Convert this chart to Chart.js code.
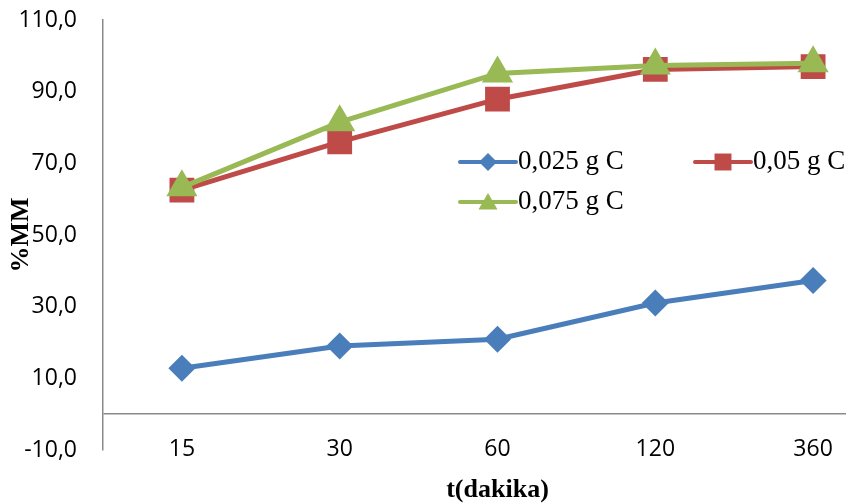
<!DOCTYPE html>
<html lang="tr">
<head>
<meta charset="UTF-8">
<title>%MM - t(dakika)</title>
<script src="https://cdn.jsdelivr.net/npm/chart.js"></script>
<style>
  html, body { margin: 0; padding: 0; background: #fff; overflow: hidden; }
  #wrap { width: 846px; height: 504px; overflow: hidden; }
</style>
</head>
<body>
<div id="wrap"><canvas id="chart" width="900" height="504"></canvas></div>
<script>
// data
const times = ['15', '30', '60', '120', '360'];
const mm0025 = [12.8, 19.0, 20.9, 31.0, 37.3];
const mm005 = [62.5, 76.0, 87.9, 96.2, 97.0];
const mm0075 = [63.3, 81.5, 95.1, 97.3, 97.9];
const yTickValues = [-10, 10, 30, 50, 70, 90, 110];

const axisGray = '#8a8a8a';
const tickFont = { family: 'Open Sans', size: 23 };
const titleFont = { family: 'Liberation Serif', size: 26, weight: 'bold', lineHeight: 1 };

// legend drawn inside the plot like the original
const legendItems = [
  { ds: 0, x: 460, y: 162 },
  { ds: 1, x: 695, y: 162 },
  { ds: 2, x: 460, y: 202 }
];
const legendRadius = [9, 12, 11];

const insideLegend = {
  id: 'insideLegend',
  afterDraw(chart) {
    const ctx = chart.ctx;
    ctx.save();
    legendItems.forEach(item => {
      const ds = chart.data.datasets[item.ds];
      ctx.strokeStyle = ds.borderColor;
      ctx.fillStyle = ds.borderColor;
      ctx.lineWidth = 4;
      ctx.lineCap = 'round';
      ctx.beginPath();
      ctx.moveTo(item.x, item.y);
      ctx.lineTo(item.x + 56, item.y);
      ctx.stroke();
      Chart.helpers.drawPoint(ctx, {
        pointStyle: ds.pointStyle, radius: legendRadius[item.ds], rotation: 0, borderWidth: 0
      }, item.x + 28, item.y + (ds.pointStyle === 'triangle' ? 2 : 0));
      ctx.fillStyle = '#000';
      ctx.font = '27px "Liberation Serif"';
      ctx.textBaseline = 'middle';
      ctx.textAlign = 'left';
      ctx.fillText(ds.label, item.x + 58, item.y);
    });
    ctx.restore();
  }
};

// category labels sit at the -10 level, like the original
const xLabelsLow = {
  id: 'xLabelsLow',
  afterDraw(chart) {
    const ctx = chart.ctx;
    const x = chart.scales.x, y = chart.scales.y;
    ctx.save();
    ctx.fillStyle = '#000';
    ctx.font = tickFont.size + 'px "' + tickFont.family + '"';
    ctx.textAlign = 'center';
    ctx.textBaseline = 'middle';
    chart.data.labels.forEach((lab, i) => {
      ctx.fillText(lab, x.getPixelForValue(i), y.getPixelForValue(-10) - 1);
    });
    ctx.restore();
  }
};

new Chart(document.getElementById('chart'), {
  type: 'line',
  data: {
    labels: times,
    datasets: [
      { label: '0,025 g C', data: mm0025, borderColor: '#4a7ebb', backgroundColor: '#4a7ebb',
        borderWidth: 5, pointStyle: 'rectRot', pointRadius: 10, order: 2 },
      { label: '0,05 g C', data: mm005, borderColor: '#be4b48', backgroundColor: '#be4b48',
        borderWidth: 5, pointStyle: 'rect', pointRadius: 14, order: 1 },
      { label: '0,075 g C', data: mm0075, borderColor: '#98b954', backgroundColor: '#98b954',
        borderWidth: 5, pointStyle: 'triangle', pointRadius: 13, order: 0 }
    ]
  },
  options: {
    responsive: false,
    animation: false,
    layout: { autoPadding: false, padding: { top: 20, right: 8, left: 0, bottom: 0 } },
    plugins: { legend: { display: false }, tooltip: { enabled: false } },
    elements: { line: { tension: 0 }, point: { borderWidth: 0, hoverRadius: 0 } },
    scales: {
      x: {
        offset: true,
        grid: { display: false, drawTicks: false },
        border: { display: false },
        ticks: { display: false },
        title: { display: true, text: 't(dakika)', color: '#000', font: titleFont, padding: { top: 0, bottom: 1 } },
        afterFit(s) { s.height = 54; }
      },
      y: {
        min: -10,
        max: 110,
        afterBuildTicks(s) {
          s.ticks = yTickValues.concat([0]).sort((a, b) => a - b).map(v => ({ value: v }));
        },
        grid: {
          drawTicks: false,
          lineWidth: 1.5,
          color: c => (c.tick && c.tick.value === 0) ? axisGray : 'rgba(0,0,0,0)'
        },
        border: { display: true, color: axisGray, width: 1.5 },
        ticks: {
          color: '#000', font: tickFont, padding: 26,
          callback: v => v === 0 ? '' : v.toFixed(1).replace('.', ',')
        },
        title: { display: true, text: '%MM', color: '#000', font: titleFont, padding: { top: 8, bottom: 0 } },
        afterFit(s) { s.width = 103; s.paddingTop = 0; s.paddingBottom = 0; }
      }
    }
  },
  plugins: [insideLegend, xLabelsLow]
});
</script>
</body>
</html>
